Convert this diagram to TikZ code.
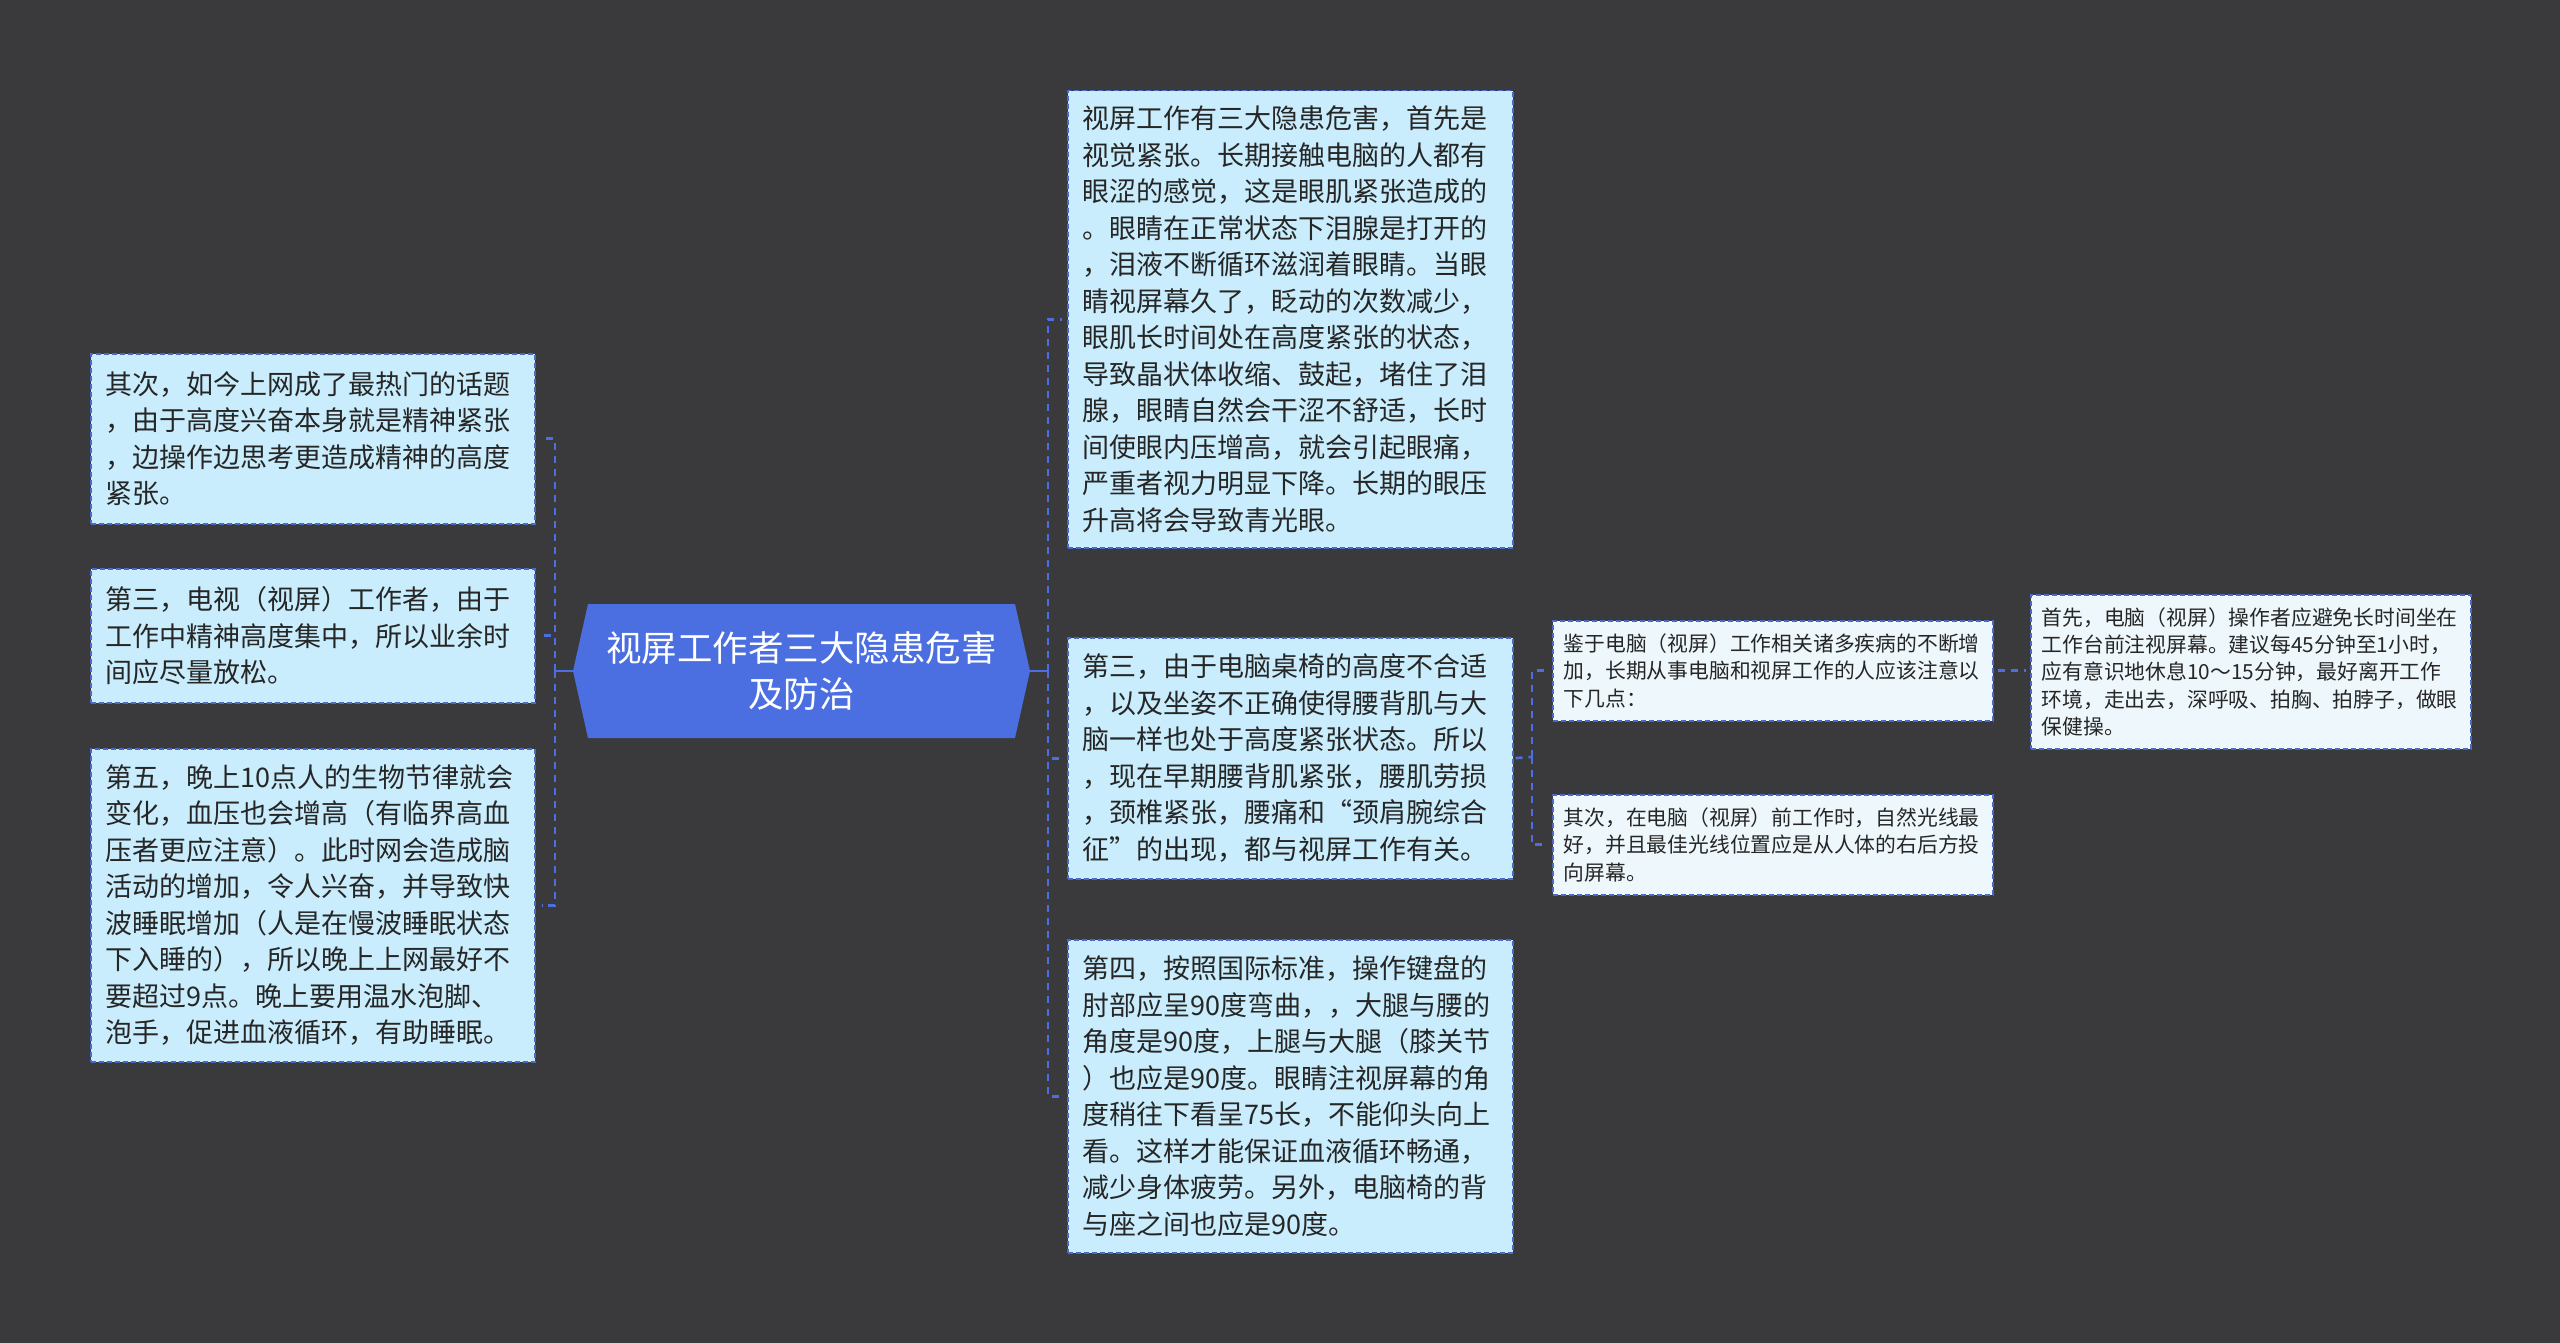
\documentclass[tikz,border=0pt]{standalone}
\usepackage{fontspec}
\newfontfamily\cjk{Noto Sans CJK SC}
\definecolor{bgcol}{HTML}{3A393C}
\definecolor{centerfill}{HTML}{4B6FE0}
\definecolor{boxfill}{HTML}{C9EDFC}
\definecolor{lightfill}{HTML}{EEF8FC}
\definecolor{bordercol}{HTML}{4A6ACB}
\definecolor{linecol}{HTML}{4B6FE0}
\definecolor{txtcol}{HTML}{262626}
\begin{document}
\begin{tikzpicture}[x=1pt,y=-1pt,
  mainbox/.style={draw=bordercol, line width=1.5pt, dash pattern=on 5pt off 3pt,
    fill=boxfill, anchor=north west, align=left, inner xsep=15pt, inner ysep=6pt,
    text=txtcol, font=\cjk\fontsize{27}{36.5}\selectfont},
  subbox/.style={draw=bordercol, line width=1.5pt, dash pattern=on 5pt off 3pt,
    fill=lightfill, anchor=north west, align=left, inner xsep=11pt, inner ysep=6pt,
    text=txtcol, font=\cjk\fontsize{20.8}{27.2}\selectfont},
  conn/.style={draw=linecol, line width=2.6pt, dash pattern=on 7pt off 6pt},
  connsolid/.style={draw=linecol, line width=2.6pt}
]
\fill[bgcol] (0,0) rectangle (2560,1343);
\useasboundingbox (0,0) rectangle (2560,1343);

% centre node
\fill[centerfill] (573,671) -- (588,604) -- (1015,604) -- (1030,671) -- (1015,738) -- (588,738) -- cycle;
\node[align=center, text=white, font=\cjk\fontsize{35.5}{46}\selectfont, inner sep=0pt] (center) at (801.5,671)
  {视屏工作者三大隐患危害\\及防治};
\coordinate (cl) at (573,671);
\coordinate (cr) at (1030,671);
\coordinate (tl) at (555,671);
\coordinate (tr) at (1048,671);

% left boxes
\node[mainbox, text width=414pt, minimum height=170pt] (L1) at (90,353)
  {其次，如今上网成了最热门的话题\\，由于高度兴奋本身就是精神紧张\\，边操作边思考更造成精神的高度\\紧张。};
\node[mainbox, text width=414pt, minimum height=134pt] (L2) at (90,568)
  {第三，电视（视屏）工作者，由于\\工作中精神高度集中，所以业余时\\间应尽量放松。};
\node[mainbox, text width=414pt, minimum height=313pt] (L3) at (90,748)
  {第五，晚上10点人的生物节律就会\\变化，血压也会增高（有临界高血\\压者更应注意）。此时网会造成脑\\活动的增加，令人兴奋，并导致快\\波睡眠增加（人是在慢波睡眠状态\\下入睡的），所以晚上上网最好不\\要超过9点。晚上要用温水泡脚、\\泡手，促进血液循环，有助睡眠。};

% right boxes
\node[mainbox, text width=415pt, minimum height=457pt] (R1) at (1067,90)
  {视屏工作有三大隐患危害，首先是\\视觉紧张。长期接触电脑的人都有\\眼涩的感觉，这是眼肌紧张造成的\\。眼睛在正常状态下泪腺是打开的\\，泪液不断循环滋润着眼睛。当眼\\睛视屏幕久了，眨动的次数减少，\\眼肌长时间处在高度紧张的状态，\\导致晶状体收缩、鼓起，堵住了泪\\腺，眼睛自然会干涩不舒适，长时\\间使眼内压增高，就会引起眼痛，\\严重者视力明显下降。长期的眼压\\升高将会导致青光眼。};
\node[mainbox, text width=415pt, minimum height=241pt] (R2) at (1067,637)
  {第三，由于电脑桌椅的高度不合适\\，以及坐姿不正确使得腰背肌与大\\脑一样也处于高度紧张状态。所以\\，现在早期腰背肌紧张，腰肌劳损\\，颈椎紧张，腰痛和“颈肩腕综合\\征”的出现，都与视屏工作有关。};
\node[mainbox, text width=415pt, minimum height=313pt] (R3) at (1067,939)
  {第四，按照国际标准，操作键盘的\\肘部应呈90度弯曲，，大腿与腰的\\角度是90度，上腿与大腿（膝关节\\）也应是90度。眼睛注视屏幕的角\\度稍往下看呈75长，不能仰头向上\\看。这样才能保证血液循环畅通，\\减少身体疲劳。另外，电脑椅的背\\与座之间也应是90度。};

% sub boxes
\node[subbox, text width=418pt, minimum height=100pt] (S1) at (1552,620)
  {鉴于电脑（视屏）工作相关诸多疾病的不断增\\加，长期从事电脑和视屏工作的人应该注意以\\下几点：};
\node[subbox, text width=418pt, minimum height=100pt] (S2) at (1552,794)
  {其次，在电脑（视屏）前工作时，自然光线最\\好，并且最佳光线位置应是从人体的右后方投\\向屏幕。};
\node[subbox, text width=418pt, minimum height=154pt] (T1) at (2030,594)
  {首先，电脑（视屏）操作者应避免长时间坐在\\工作台前注视屏幕。建议每45分钟至1小时，\\应有意识地休息10～15分钟，最好离开工作\\环境，走出去，深呼吸、拍胸、拍脖子，做眼\\保健操。};

% connectors
\draw[connsolid] (cl) -- (tl);
\draw[conn, shorten >=6pt] (tl) |- (L1.east);
\draw[conn, shorten >=6pt] (tl) |- (L2.east);
\draw[conn, shorten >=6pt] (tl) |- (L3.east);
\draw[connsolid] (cr) -- (tr);
\draw[conn, shorten >=5pt] (tr) |- (R1.west);
\draw[conn, shorten >=5pt] (tr) |- (R2.west);
\draw[conn, shorten >=5pt] (tr) |- (R3.west);
\coordinate (ts) at (1532,757);
\draw[conn, shorten <=2pt] (R2.east) -- (ts);
\draw[conn, shorten >=8pt] (ts) |- (S1.west);
\draw[conn, shorten >=8pt] (ts) |- (S2.west);
\draw[conn, shorten <=4pt, shorten >=4pt] (S1.east) -- (T1.west |- S1.east);
\end{tikzpicture}
\end{document}
